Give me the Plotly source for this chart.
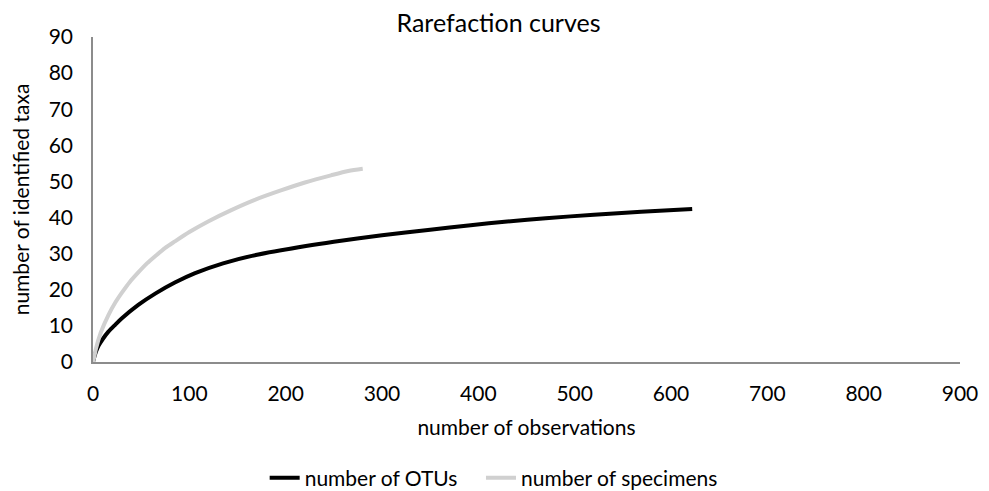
import plotly.graph_objects as go

otu_x = [0, 1, 3, 6, 10, 16, 23, 30, 47, 65, 85, 106, 135, 165, 221, 250, 300, 350, 392, 430, 470, 520, 569, 622]
otu_y = [0, 1, 2.8, 4.6, 6.3, 8.4, 10.3, 12.1, 15.8, 19.0, 22.0, 24.6, 27.3, 29.4, 32.1, 33.3, 35.1, 36.6, 37.9, 38.9, 39.8, 40.8, 41.6, 42.4]

spec_x = [0, 1, 3, 8, 16, 23, 30, 38, 47, 56, 65, 75, 85, 100, 120, 143, 168, 195, 220, 247, 265, 280]
spec_y = [0, 1, 3.6, 8.1, 13.0, 16.4, 19.2, 22.1, 24.8, 27.3, 29.4, 31.6, 33.4, 36.0, 39.0, 42.0, 44.9, 47.5, 49.7, 51.7, 52.9, 53.5]

x_ticks = [0, 100, 200, 300, 400, 500, 600, 700, 800, 900]
y_ticks = [0, 10, 20, 30, 40, 50, 60, 70, 80, 90]

FONT = "Lato, Carlito, Calibri, sans-serif"

fig = go.Figure()
fig.add_trace(go.Scatter(x=otu_x, y=otu_y, mode="lines", name="number of OTUs", legend="legend",
                         line=dict(color="#000000", width=4, shape="spline", smoothing=0.8)))
fig.add_trace(go.Scatter(x=spec_x, y=spec_y, mode="lines", name="number of specimens", legend="legend2",
                         line=dict(color="#d0d0d0", width=4, shape="spline", smoothing=0.8)))

leg_common = dict(orientation="h", y=-0.357, yanchor="middle", xanchor="left",
                  font=dict(size=21, family=FONT), itemwidth=30, bgcolor="rgba(0,0,0,0)")

fig.update_layout(
    width=981, height=483,
    paper_bgcolor="white", plot_bgcolor="white",
    margin=dict(l=85, r=29, t=29, b=129, autoexpand=False),
    font=dict(family=FONT, size=21, color="#000000"),
    title=dict(text="Rarefaction curves", x=0.5, xanchor="center", y=0.969, yanchor="middle",
               font=dict(size=25, family=FONT, color="#000000")),
    showlegend=True,
    legend=dict(x=0.198, **leg_common),
    legend2=dict(x=0.4475, **leg_common),
    xaxis=dict(range=[0, 900], tickvals=x_ticks, ticktext=[str(v) for v in x_ticks],
               showgrid=False, zeroline=False, showline=True, linecolor="#8c8c8c", linewidth=1.5,
               ticks="", ticklabelstandoff=12, tickfont=dict(size=21), automargin=False,
               title=dict(text="number of observations", font=dict(size=21), standoff=16)),
    yaxis=dict(range=[0, 90], tickvals=y_ticks, ticktext=[str(v) for v in y_ticks],
               showgrid=False, zeroline=False, showline=True, linecolor="#8c8c8c", linewidth=1.5,
               ticks="", ticklabelstandoff=14, tickfont=dict(size=21), automargin=False,
               title=dict(text="number of identified taxa", font=dict(size=21), standoff=16)),
)

fig.write_html("out.html")
